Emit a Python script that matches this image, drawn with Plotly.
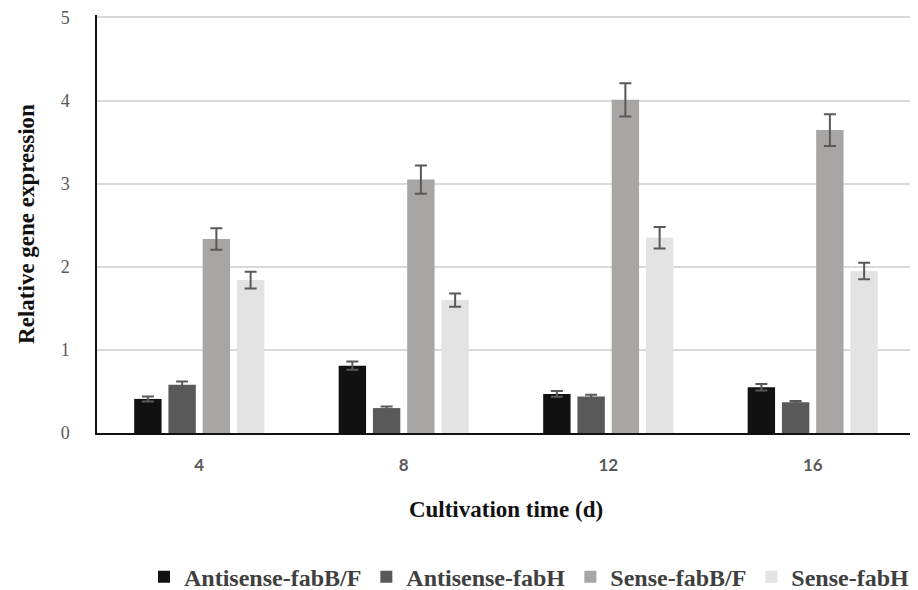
import plotly.graph_objects as go

categories = ["4", "8", "12", "16"]
series_names = ["Antisense-fabB/F", "Antisense-fabH", "Sense-fabB/F", "Sense-fabH"]
antisense_fabBF = [0.41, 0.81, 0.47, 0.55]
antisense_fabBF_err = [0.03, 0.05, 0.035, 0.04]
antisense_fabH = [0.58, 0.30, 0.44, 0.37]
antisense_fabH_err = [0.04, 0.02, 0.02, 0.015]
sense_fabBF = [2.335, 3.05, 4.01, 3.645]
sense_fabBF_err = [0.13, 0.17, 0.20, 0.19]
sense_fabH = [1.84, 1.60, 2.35, 1.95]
sense_fabH_err = [0.10, 0.08, 0.13, 0.10]
y_ticks = [0, 1, 2, 3, 4, 5]

colors = ["#111111", "#595959", "#a8a6a5", "#e3e3e3"]
values = [antisense_fabBF, antisense_fabH, sense_fabBF, sense_fabH]
errors = [antisense_fabBF_err, antisense_fabH_err, sense_fabBF_err, sense_fabH_err]

fig = go.Figure()
for name, v, e, c in zip(series_names, values, errors, colors):
    fig.add_trace(go.Bar(
        x=categories, y=v, name=name, marker=dict(color=c, line=dict(width=0)),
        error_y=dict(type="data", array=e, visible=True, color="#595959", thickness=2, width=6),
    ))

# page body adds an 8px margin, so the figure is sized/placed to compensate
fig.update_layout(
    width=910, height=582,
    margin=dict(l=89, r=3, t=7, b=157, autoexpand=False),
    plot_bgcolor="white", paper_bgcolor="white",
    barmode="group", bargap=0.33, bargroupgap=0.2,
    showlegend=True,
    legend=dict(orientation="h", x=1.0, xanchor="right", y=-0.345, yanchor="middle",
                font=dict(family="Liberation Serif", size=24, color="#404040", weight="bold"),
                itemwidth=30, traceorder="normal"),
    xaxis=dict(
        type="category", automargin=False,
        showline=True, linecolor="#111111", linewidth=2,
        ticks="", showgrid=False,
        tickfont=dict(family="Lato", size=17, color="#595959", weight="bold"),
        ticklabelstandoff=16,
        title=dict(text="<b>Cultivation time (d)</b>", standoff=26,
                   font=dict(family="Liberation Serif", size=23, color="#111111")),
    ),
    yaxis=dict(
        range=[0, 5.03], tickvals=y_ticks, automargin=False,
        ticklabeloverflow="allow",
        showline=True, linecolor="#111111", linewidth=1.5,
        showgrid=True, gridcolor="#d9d9d9", gridwidth=1.5,
        zeroline=False, ticks="",
        tickfont=dict(family="Liberation Serif", size=18, color="#595959"),
        ticklabelstandoff=22,
        title=dict(text="<b>Relative gene expression</b>", standoff=20,
                   font=dict(family="Liberation Serif", size=23, color="#111111")),
    ),
)

fig.write_html("out.html")
